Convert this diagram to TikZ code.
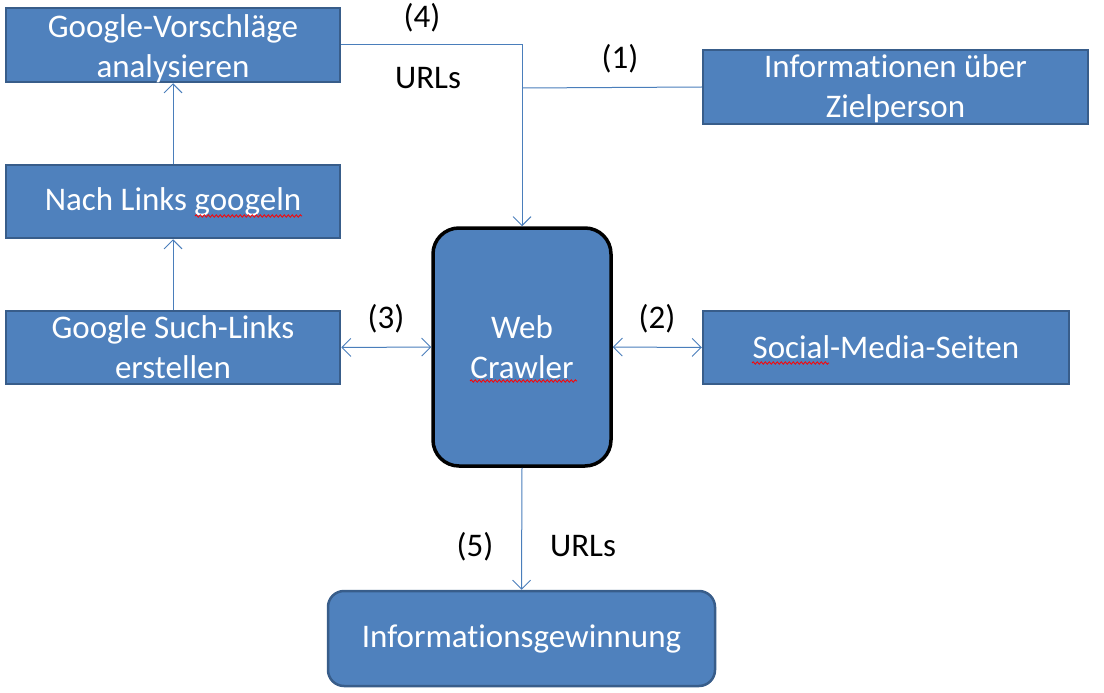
\documentclass[tikz,border=0pt]{standalone}
\usepackage{fontspec}
\setmainfont{Carlito}[Ligatures=NoCommon]
\usetikzlibrary{arrows.meta,decorations.pathmorphing}
\definecolor{boxfill}{HTML}{4F81BD}
\definecolor{boxline}{HTML}{385D8A}
\definecolor{connc}{HTML}{4A7EBB}
\tikzset{
  boxtext/.style={text=white, align=center, inner sep=0pt, font=\fontsize{33}{40}\selectfont},
  box/.style={draw=boxline, fill=boxfill, line width=2.5pt, boxtext},
  crawler/.style={draw=black, fill=boxfill, line width=3.5pt, boxtext, rounded corners=26pt},
  roundbox/.style={box, rounded corners=16pt},
  conn/.style={draw=connc, line width=1pt, -{Straight Barb[length=9pt,width=18pt,line width=0.9pt]}},
  dconn/.style={draw=connc, line width=1pt, {Straight Barb[length=9pt,width=18pt,line width=0.9pt]}-{Straight Barb[length=9pt,width=18pt,line width=0.9pt]}},
  plain/.style={draw=connc, line width=1pt},
  lbl/.style={inner sep=0pt, text=black, font=\fontsize{33}{40}\selectfont},
  squig/.style={draw=red, line width=0.8pt, decorate, decoration={snake, amplitude=1.2pt, segment length=4pt}}
}
\begin{document}
\begin{tikzpicture}[x=1pt,y=-1pt]
\useasboundingbox (0,0) rectangle (1104,693);
\node[box, minimum width=334pt, minimum height=74pt,
  label={[boxtext, yshift=-4pt]center:Google-Vorschläge\\analysieren}] (A) at (173,45) {};
\node[box, minimum width=334pt, minimum height=73pt] (B) at (173,201.5) {Nach Links googeln};
\node[box, minimum width=334pt, minimum height=73pt] (C) at (173,347.5) {Google Such-Links\\erstellen};
\node[box, minimum width=385pt, minimum height=74pt,
  label={[boxtext, yshift=-2pt]center:Informationen über\\Zielperson}] (D) at (895.5,87) {};
\node[crawler, minimum width=178pt, minimum height=238pt] (W) at (522,347) {Web\\Crawler};
\node[box, minimum width=366pt, minimum height=73pt] (S) at (886,347.5) {Social-Media-Seiten};
\node[roundbox, minimum width=387pt, minimum height=95pt] (I) at (521.5,638.5) {Informationsgewinnung};

\coordinate (J) at (522,88);
\draw[conn] (A.east) -| (W.north);
\draw[plain] (D.west) -- (J);
\draw[conn] (B.north) -- (A.south);
\draw[conn] (C.north) -- (B.south);
\draw[dconn] (C.east) -- (W.west);
\draw[dconn] (W.east) -- (S.west);
\draw[conn] (W.south) -- (I.north);

\node[lbl] (l4) at (422,18) {(4)};
\node[lbl] (u1) at (428,78) {URLs};
\node[lbl] (l1) at (620,59) {(1)};
\node[lbl] (l3) at (386,319) {(3)};
\node[lbl] (l2) at (657,319) {(2)};
\node[lbl] (l5) at (475,547) {(5)};
\node[lbl] (u2) at (583,546) {URLs};

\coordinate (q1a) at (195,216); \coordinate (q1b) at (302,216);
\draw[squig] (q1a) -- (q1b);
\coordinate (q2a) at (470,381); \coordinate (q2b) at (577,381);
\draw[squig] (q2a) -- (q2b);
\coordinate (q3a) at (752,363); \coordinate (q3b) at (829,363);
\draw[squig] (q3a) -- (q3b);
\end{tikzpicture}
\end{document}
